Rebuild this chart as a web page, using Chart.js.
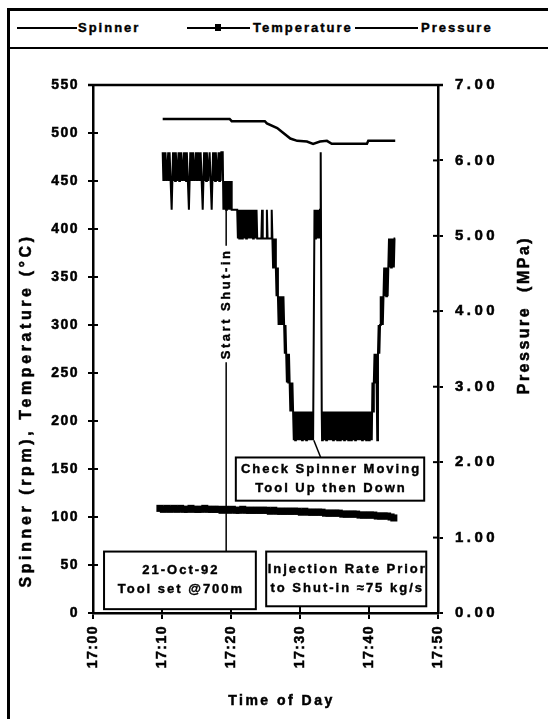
<!DOCTYPE html>
<html>
<head>
<meta charset="utf-8">
<script src="https://cdn.jsdelivr.net/npm/chart.js@4.4.0/dist/chart.umd.min.js"></script>
<style>
  body { margin:0; background:#fff; width:548px; height:719px; overflow:hidden; position:relative;
         font-family:"Liberation Sans", Arial, sans-serif; }
  #frame { position:absolute; left:7px; top:8px; width:600px; height:760px;
           border-left:3px solid #000; border-top:3px solid #000; }
  #legendRow { position:absolute; left:7px; top:8px; width:600px; height:39px; border-bottom:2px solid #000; }
  .ln { position:absolute; height:2px; background:#000; }
  .mk { position:absolute; width:6px; height:7px; background:#000; }
  .lt { position:absolute; font-weight:bold; font-size:13px; letter-spacing:2px; line-height:16px;
        -webkit-text-stroke:0.4px #000; }
  canvas { position:absolute; left:0; top:0; }
</style>
</head>
<body>
<div id="frame"></div>
<div id="legendRow"></div>
<div class="ln" style="left:17px;top:27px;width:60px"></div>
<div class="lt" style="left:78px;top:20px">Spinner</div>
<div class="ln" style="left:187px;top:27px;width:63px"></div>
<div class="mk" style="left:215px;top:24px"></div>
<div class="lt" style="left:253px;top:20px">Temperature</div>
<div class="ln" style="left:355px;top:27px;width:63px"></div>
<div class="lt" style="left:421px;top:20px">Pressure</div>
<canvas id="chart" width="548" height="719"></canvas>
<script>
// time axis in minutes after 17:00
const timeTicks = [0, 10, 20, 30, 40, 50]
const timeLabels = ["17:00", "17:10", "17:20", "17:30", "17:40", "17:50"]

const spinnerTime = [
  10.1, 10.2, 10.3, 10.4, 10.5, 10.7, 10.9, 11.0, 11.1, 11.4,
  11.6, 11.7, 11.8, 11.9, 12.0, 12.2, 12.4, 12.5, 12.6, 12.7,
  12.8, 13.0, 13.2, 13.3, 13.4, 13.5, 13.6, 13.9, 14.1, 14.2,
  14.3, 14.4, 14.5, 14.7, 14.9, 15.0, 15.1, 15.2, 15.3, 15.5,
  15.6, 15.9, 16.1, 16.2, 16.3, 16.4, 16.5, 16.7, 16.9, 17.2,
  17.4, 17.5, 17.6, 17.7, 17.8, 18.0, 18.2, 18.3, 18.4, 18.5,
  18.6, 18.8, 18.9, 19.0, 19.1, 19.2, 19.3, 19.4, 19.5, 19.6,
  19.7, 19.8, 19.9, 20.0, 20.1, 20.9, 21.0, 21.1, 21.2, 21.3,
  21.4, 21.5, 21.6, 21.7, 21.8, 21.9, 22.0, 22.1, 22.2, 22.3,
  22.4, 22.5, 22.6, 22.7, 22.8, 22.9, 23.0, 23.1, 23.2, 23.3,
  23.4, 23.5, 23.6, 23.7, 23.8, 23.9, 24.4, 24.5, 24.6, 25.1,
  25.2, 25.3, 25.8, 25.9, 26.0, 26.1, 26.2, 26.3, 26.4, 26.5,
  26.6, 26.7, 26.8, 26.9, 27.0, 27.1, 27.2, 27.3, 27.4, 27.5,
  27.6, 27.7, 27.8, 27.9, 28.0, 28.1, 28.2, 28.3, 28.4, 28.5,
  28.6, 28.7, 28.8, 28.9, 29.0, 29.1, 29.2, 29.3, 29.4, 29.5,
  29.6, 29.7, 29.8, 29.9, 30.0, 30.1, 30.2, 30.3, 30.4, 30.5,
  30.6, 30.7, 30.8, 30.9, 31.0, 31.1, 31.2, 31.3, 31.4, 31.5,
  31.6, 31.7, 31.8, 31.9, 32.0, 32.1, 32.2, 32.3, 32.4, 32.5,
  32.6, 32.7, 32.8, 32.9, 33.0, 33.15, 33.2, 33.3, 33.4, 33.5,
  33.6, 33.7, 33.8, 33.9, 34.0, 34.1, 34.2, 34.3, 34.4, 34.5,
  34.6, 34.7, 34.8, 34.9, 35.0, 35.1, 35.2, 35.3, 35.4, 35.5,
  35.6, 35.7, 35.8, 35.9, 36.0, 36.1, 36.2, 36.3, 36.4, 36.5,
  36.6, 36.7, 36.8, 36.9, 37.0, 37.1, 37.2, 37.3, 37.4, 37.5,
  37.6, 37.7, 37.8, 37.9, 38.0, 38.1, 38.2, 38.3, 38.4, 38.5,
  38.6, 38.7, 38.8, 38.9, 39.0, 39.1, 39.2, 39.3, 39.4, 39.5,
  39.6, 39.7, 39.8, 39.9, 40.0, 40.1, 40.2, 40.3, 40.4, 40.5,
  40.6, 40.7, 40.8, 40.9, 41.0, 41.1, 41.2, 41.3, 41.4, 41.5,
  41.6, 41.7, 41.8, 41.9, 42.0, 42.1, 42.2, 42.3, 42.4, 42.5,
  42.6, 42.7, 42.8, 42.9, 43.0, 43.1, 43.2, 43.3, 43.4, 43.5,
  43.6, 43.7, 43.8]
const spinnerRpm = [
  480, 450, 480, 450, 480, 450, 480, 450, 480, 420,
  480, 450, 480, 450, 480, 450, 480, 450, 480, 450,
  480, 450, 480, 450, 480, 450, 480, 420, 480, 450,
  480, 450, 480, 450, 480, 450, 480, 450, 480, 450,
  480, 420, 480, 450, 480, 450, 480, 450, 480, 420,
  480, 450, 480, 450, 480, 450, 480, 450, 480, 450,
  480, 480, 420, 450, 420, 450, 420, 450, 420, 450,
  420, 450, 420, 450, 420, 420, 390, 420, 390, 420,
  390, 420, 390, 420, 390, 420, 390, 420, 390, 420,
  390, 420, 390, 420, 390, 420, 390, 420, 390, 420,
  390, 420, 390, 420, 390, 390, 390, 420, 390, 390,
  420, 390, 390, 420, 390, 360, 390, 360, 390, 360,
  330, 360, 330, 300, 330, 300, 330, 300, 330, 300,
  330, 300, 270, 300, 270, 240, 270, 240, 270, 240,
  210, 240, 210, 240, 210, 180, 210, 180, 210, 180,
  210, 180, 210, 180, 210, 180, 210, 180, 210, 180,
  210, 180, 210, 180, 210, 180, 210, 180, 210, 180,
  210, 180, 210, 180, 180, 420, 390, 420, 390, 420,
  390, 420, 390, 420, 480, 210, 180, 210, 180, 210,
  180, 210, 180, 210, 180, 210, 180, 210, 180, 210,
  180, 210, 180, 210, 180, 210, 180, 210, 180, 210,
  180, 210, 180, 210, 180, 210, 180, 210, 180, 210,
  180, 210, 180, 210, 180, 210, 180, 210, 180, 210,
  180, 210, 180, 210, 180, 210, 180, 210, 180, 210,
  180, 210, 180, 210, 180, 210, 180, 210, 180, 210,
  180, 210, 180, 210, 180, 210, 180, 210, 180, 240,
  210, 240, 270, 240, 270, 240, 180, 270, 300, 270,
  300, 330, 300, 330, 300, 330, 360, 330, 360, 330,
  360, 330, 360, 390, 360, 390, 360, 390, 360, 390,
  360, 390, 390]

const tempTime = [9.7, 10.2, 10.7, 11.2, 11.7, 12.2, 12.7, 13.2, 13.7, 14.2, 14.7, 15.2, 15.7, 16.2, 16.7, 17.2, 17.7,
  18.2, 18.7, 19.2, 19.7, 20.2, 20.7, 21.2, 21.7, 22.2, 22.7, 23.2, 23.7, 24.2, 24.7, 25.2, 25.7, 26.2, 26.7,
  27.2, 27.7, 28.2, 28.7, 29.2, 29.7, 30.2, 30.7, 31.2, 31.7, 32.2, 32.7, 33.2, 33.7, 34.2, 34.7, 35.2, 35.7,
  36.2, 36.7, 37.2, 37.7, 38.2, 38.7, 39.2, 39.7, 40.2, 40.7, 41.2, 41.7, 42.2, 42.7, 43.2, 43.6]
const tempC = [109, 108, 109, 108, 109, 108, 109, 108, 108, 109, 108, 108, 108, 109, 108, 108, 108,
  108, 107, 108, 107, 108, 107, 107, 108, 107, 107, 107, 107, 107, 107, 107, 106, 107, 106,
  106, 106, 106, 106, 106, 106, 105, 106, 105, 105, 105, 105, 105, 104, 104, 104, 104, 104,
  103, 103, 103, 103, 103, 102, 102, 102, 102, 102, 101, 101, 101, 101, 100, 99]

const pressTime = [10.1, 19.8, 20.1, 24.9, 25.2, 26.7, 27.5, 28.6, 29.6, 31.0, 31.9, 32.9, 33.9, 34.6, 39.7, 39.9, 43.8]
const pressMPa = [6.55, 6.55, 6.52, 6.52, 6.49, 6.43, 6.37, 6.29, 6.26, 6.25, 6.22, 6.25, 6.26, 6.22, 6.22, 6.26, 6.26]

const FONT = '"Liberation Sans", Arial, sans-serif'

const pts = (xs, ys) => xs.map((t, i) => ({x: t, y: ys[i]}))

// heavier glyphs, like the photocopied original
const txt = (ctx, s, px, py) => { ctx.strokeText(s, px, py); ctx.fillText(s, px, py) }

const extras = {
    id: "extras",
    beforeUpdate(chart) { chart.ctx.letterSpacing = "1.5px" },
    beforeDraw(chart) { chart.ctx.letterSpacing = "1.5px" },
    afterDatasetsDraw(chart) {
        const {ctx, chartArea: a} = chart
        const x = chart.scales.x, y = chart.scales.y, y2 = chart.scales.y2
        const seg = (x0, y0, x1, y1) => { ctx.beginPath(); ctx.moveTo(x0, y0); ctx.lineTo(x1, y1); ctx.stroke() }
        ctx.save()
        ctx.strokeStyle = "#000"
        ctx.fillStyle = "#000"

        // plot top border and inner halves of the tick marks
        ctx.lineWidth = 2.5
        seg(a.left - 5, a.top, a.right + 5, a.top)
        ctx.lineWidth = 2
        y.ticks.forEach(t => { const p = y.getPixelForValue(t.value); seg(a.left, p, a.left + 5, p) })
        y2.ticks.forEach(t => { const p = y2.getPixelForValue(t.value); seg(a.right - 5, p, a.right, p) })
        x.ticks.forEach(t => { const p = x.getPixelForValue(t.value); seg(p, a.bottom, p, a.bottom - 6) })

        // pressure tick labels (wider tracking than the left axis)
        ctx.font = "bold 15px " + FONT
        ctx.letterSpacing = "3.5px"
        ctx.textAlign = "left"
        ctx.textBaseline = "middle"
        ctx.lineWidth = 0.5
        y2.ticks.forEach(t => txt(ctx, t.value.toFixed(2), a.right + 17, y2.getPixelForValue(t.value)))

        ctx.font = "bold 13px " + FONT
        ctx.textAlign = "center"

        // start shut-in marker
        ctx.letterSpacing = "2.5px"
        const sx = x.getPixelForValue(19.3)
        const ty = y.getPixelForValue(322)
        const half = ctx.measureText("Start Shut-in").width / 2
        ctx.lineWidth = 1.5
        seg(sx, y.getPixelForValue(420), sx, ty - half - 3)
        seg(sx, ty + half + 3, sx, y.getPixelForValue(64))
        ctx.save()
        ctx.translate(sx, ty)
        ctx.rotate(-Math.PI / 2)
        ctx.lineWidth = 0.4
        txt(ctx, "Start Shut-in", 0, 0)
        ctx.restore()

        // pointer to spinner trace
        ctx.lineWidth = 1.5
        seg(x.getPixelForValue(32.0), y.getPixelForValue(180), x.getPixelForValue(33.0), y.getPixelForValue(162))

        // annotation boxes
        ctx.letterSpacing = "2px"
        const box = (t0, t1, v0, v1, lines) => {
            const l = x.getPixelForValue(t0), r = x.getPixelForValue(t1)
            const tp = y.getPixelForValue(v0), bt = y.getPixelForValue(v1)
            ctx.fillStyle = "#fff"
            ctx.fillRect(l, tp, r - l, bt - tp)
            ctx.lineWidth = 2
            ctx.strokeRect(l, tp, r - l, bt - tp)
            ctx.fillStyle = "#000"
            ctx.lineWidth = 0.4
            const cy = (tp + bt) / 2
            lines.forEach((s, i) => txt(ctx, s, (l + r) / 2 + 1, cy + (i - (lines.length - 1) / 2) * 19))
        }
        box(20.7, 48.0, 162, 117, ["Check Spinner Moving", "Tool Up then Down"])
        box(1.6, 23.6, 64, 4, ["21-Oct-92", "Tool set @700m"])
        box(25.1, 48.3, 64, 7, ["Injection Rate Prior", "to Shut-in \u224875 kg/s"])

        // axis titles
        ctx.font = "bold 16px " + FONT
        ctx.letterSpacing = "3.6px"
        ctx.lineWidth = 0.5
        ctx.save()
        ctx.translate(27, y.getPixelForValue(211))
        ctx.rotate(-Math.PI / 2)
        txt(ctx, "Spinner (rpm), Temperature (\u00B0C)", 0, 0)
        ctx.restore()
        ctx.letterSpacing = "2.5px"
        ctx.save()
        ctx.translate(525, y2.getPixelForValue(3.95))
        ctx.rotate(-Math.PI / 2)
        txt(ctx, "Pressure  (MPa)", 0, 0)
        ctx.restore()
        ctx.font = "bold 14px " + FONT
        txt(ctx, "Time of Day", (a.left + a.right) / 2 + 16, 701)
        ctx.restore()
    }
}

const ctx = document.getElementById("chart").getContext("2d")

const tickFont = { family: FONT, weight: "bold", size: 14 }

new Chart(ctx, {
    type: "line",
    data: {
        datasets: [{
            label: "Spinner",
            data: pts(spinnerTime, spinnerRpm),
            borderColor: "#000",
            borderWidth: 2,
            pointRadius: 0,
            yAxisID: "y"
        }, {
            label: "Temperature",
            data: pts(tempTime, tempC),
            borderColor: "#000",
            backgroundColor: "#000",
            borderWidth: 1.5,
            pointStyle: "rect",
            pointRadius: 5,
            pointBorderWidth: 0,
            yAxisID: "y"
        }, {
            label: "Pressure",
            data: pts(pressTime, pressMPa),
            borderColor: "#000",
            borderWidth: 2.5,
            pointRadius: 0,
            yAxisID: "y2"
        }]
    },
    options: {
        responsive: false,
        animation: false,
        devicePixelRatio: 1,
        layout: { padding: { top: 85, left: 0, right: 0, bottom: 0 } },
        plugins: { legend: { display: false }, tooltip: { enabled: false } },
        scales: {
            x: {
                type: "linear",
                min: 0,
                max: 50,
                afterFit: s => { s.height = 106 },
                afterBuildTicks: s => { s.ticks = timeTicks.map(v => ({value: v})) },
                grid: { drawOnChartArea: false, color: "#000", lineWidth: 2, tickLength: 6 },
                border: { color: "#000", width: 2.5 },
                ticks: {
                    callback: v => timeLabels[timeTicks.indexOf(v)],
                    maxRotation: 90,
                    minRotation: 90,
                    padding: 6,
                    color: "#000",
                    textStrokeColor: "#000",
                    textStrokeWidth: 0.5,
                    font: tickFont
                }
            },
            y: {
                position: "left",
                min: 0,
                max: 550,
                afterFit: s => { s.width = 93 },
                grid: { drawOnChartArea: false, color: "#000", lineWidth: 2, tickLength: 5 },
                border: { color: "#000", width: 2.5 },
                ticks: {
                    stepSize: 50,
                    padding: 9,
                    color: "#000",
                    textStrokeColor: "#000",
                    textStrokeWidth: 0.5,
                    font: tickFont
                }
            },
            y2: {
                position: "right",
                min: 0,
                max: 7,
                afterFit: s => { s.width = 110 },
                grid: { drawOnChartArea: false, color: "#000", lineWidth: 2, tickLength: 5 },
                border: { color: "#000", width: 2.5 },
                ticks: { stepSize: 1, display: false }
            }
        }
    },
    plugins: [extras]
})
</script>
</body>
</html>
